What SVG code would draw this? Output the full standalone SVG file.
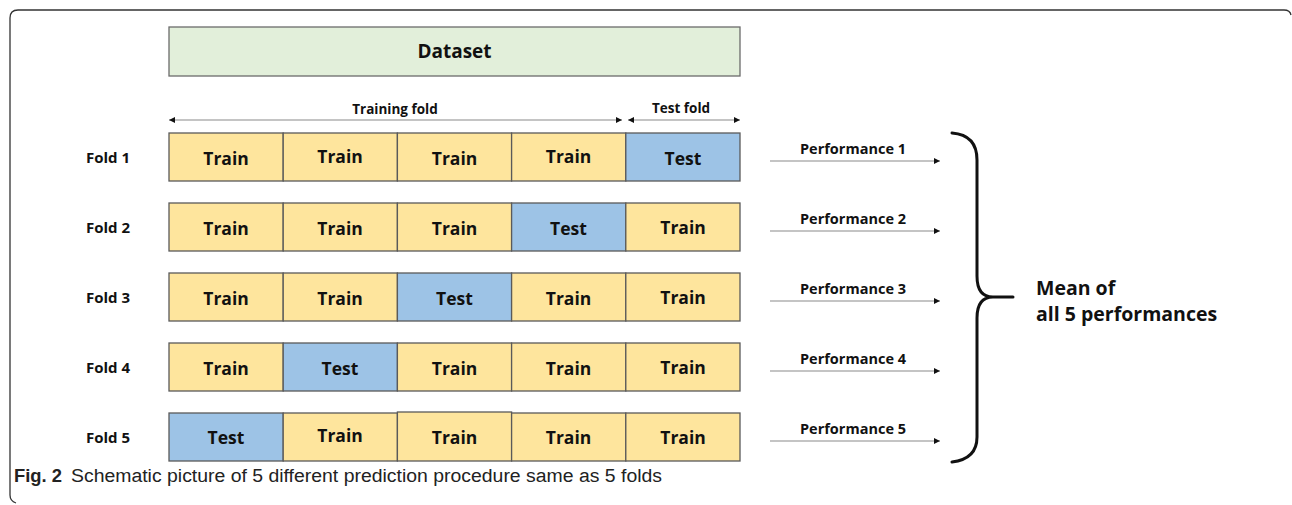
<svg xmlns="http://www.w3.org/2000/svg" width="1292" height="505" viewBox="0 0 1292 505">
  <defs>
    <style>
      .frame { fill: none; stroke: #333; stroke-width: 1.3; }
      .cell { stroke: #5a5a5a; stroke-width: 1.3; }
      .train { fill: #fee59d; }
      .test { fill: #9dc3e6; }
      .data { fill: #e2efda; stroke: #6b6b6b; stroke-width: 1.3; }
      .lbl { font-family: "Open Sans", "Noto Sans", sans-serif; font-weight: bold; fill: #111; text-anchor: middle; }
      .cellt { font-size: 17.5px; }
      .fold { font-size: 15px; }
      .perf { font-size: 14.5px; }
      .span { font-size: 13.5px; }
      .big { font-size: 19.5px; text-anchor: start; }
      .line { stroke: #8a8a8a; stroke-width: 1.2; fill: none; }
      .brace { fill: none; stroke: #111; stroke-width: 3; stroke-linecap: round; }
      .cap { font-family: "Liberation Sans", Arial, sans-serif; font-size: 18px; fill: #222; }
    </style>
    <marker id="head" viewBox="0 0 10 10" refX="10" refY="5" markerWidth="7" markerHeight="6" markerUnits="userSpaceOnUse" orient="auto-start-reverse">
      <path d="M0,0 L10,5 L0,10 Z" fill="#111"/>
    </marker>
  </defs>

  <!-- outer figure frame -->
  <path class="frame" d="M 16 503 Q 10 501 10 495 L 10 18 Q 10 10 18 10 L 1284 10 Q 1290 10 1291 15"/>

  <!-- dataset bar -->
  <g id="dataset">
    <rect class="data" x="169" y="27" width="571" height="49"/>
    <text class="lbl" x="454.5" y="58" font-size="19">Dataset</text>
  </g>

  <!-- span arrows, result arrows and the brace -->
  <g id="connectors">
    <line class="line" x1="169" y1="120" x2="622" y2="120" marker-start="url(#head)" marker-end="url(#head)"/>
    <line class="line" x1="628" y1="120" x2="740" y2="120" marker-start="url(#head)" marker-end="url(#head)"/>
    <line class="line" x1="770" y1="161" x2="940" y2="161" marker-end="url(#head)"/>
    <line class="line" x1="770" y1="231" x2="940" y2="231" marker-end="url(#head)"/>
    <line class="line" x1="770" y1="301" x2="940" y2="301" marker-end="url(#head)"/>
    <line class="line" x1="770" y1="371" x2="940" y2="371" marker-end="url(#head)"/>
    <line class="line" x1="770" y1="441" x2="940" y2="441" marker-end="url(#head)"/>
    <path class="brace" d="M 952 133 Q 977 135 977 160 L 977 276 Q 977 297 993 297 L 1013 297 M 993 297 Q 977 297 977 318 L 977 437 Q 977 459 952 462"/>
  </g>

  <g id="span-labels">
    <text class="lbl span" x="395" y="114">Training fold</text>
    <text class="lbl span" x="681" y="113">Test fold</text>
  </g>

  <!-- fold 1 -->
  <g id="fold1">
    <text class="lbl fold" x="108" y="163">Fold 1</text>
    <rect class="cell train" x="169" y="133" width="114.2" height="48"/>
    <rect class="cell train" x="283.2" y="133" width="114.2" height="48"/>
    <rect class="cell train" x="397.4" y="133" width="114.2" height="48"/>
    <rect class="cell train" x="511.6" y="133" width="114.2" height="48"/>
    <rect class="cell test" x="625.8" y="133" width="114.2" height="48"/>
    <text class="lbl cellt" x="226" y="165">Train</text>
    <text class="lbl cellt" x="340" y="163">Train</text>
    <text class="lbl cellt" x="454.5" y="165">Train</text>
    <text class="lbl cellt" x="568.5" y="163">Train</text>
    <text class="lbl cellt" x="683" y="165">Test</text>
  </g>

  <!-- fold 2 -->
  <g id="fold2">
    <text class="lbl fold" x="108" y="233">Fold 2</text>
    <rect class="cell train" x="169" y="203" width="114.2" height="48"/>
    <rect class="cell train" x="283.2" y="203" width="114.2" height="48"/>
    <rect class="cell train" x="397.4" y="203" width="114.2" height="48"/>
    <rect class="cell test" x="511.6" y="203" width="114.2" height="48"/>
    <rect class="cell train" x="625.8" y="203" width="114.2" height="48"/>
    <text class="lbl cellt" x="226" y="235">Train</text>
    <text class="lbl cellt" x="340" y="235">Train</text>
    <text class="lbl cellt" x="454.5" y="235">Train</text>
    <text class="lbl cellt" x="568.5" y="235">Test</text>
    <text class="lbl cellt" x="683" y="234">Train</text>
  </g>

  <!-- fold 3 -->
  <g id="fold3">
    <text class="lbl fold" x="108" y="303">Fold 3</text>
    <rect class="cell train" x="169" y="273" width="114.2" height="48"/>
    <rect class="cell train" x="283.2" y="273" width="114.2" height="48"/>
    <rect class="cell test" x="397.4" y="273" width="114.2" height="48"/>
    <rect class="cell train" x="511.6" y="273" width="114.2" height="48"/>
    <rect class="cell train" x="625.8" y="273" width="114.2" height="48"/>
    <text class="lbl cellt" x="226" y="305">Train</text>
    <text class="lbl cellt" x="340" y="305">Train</text>
    <text class="lbl cellt" x="454.5" y="305">Test</text>
    <text class="lbl cellt" x="568.5" y="305">Train</text>
    <text class="lbl cellt" x="683" y="304">Train</text>
  </g>

  <!-- fold 4 -->
  <g id="fold4">
    <text class="lbl fold" x="108" y="373">Fold 4</text>
    <rect class="cell train" x="169" y="343" width="114.2" height="48"/>
    <rect class="cell test" x="283.2" y="343" width="114.2" height="48"/>
    <rect class="cell train" x="397.4" y="343" width="114.2" height="48"/>
    <rect class="cell train" x="511.6" y="343" width="114.2" height="48"/>
    <rect class="cell train" x="625.8" y="343" width="114.2" height="48"/>
    <text class="lbl cellt" x="226" y="375">Train</text>
    <text class="lbl cellt" x="340" y="375">Test</text>
    <text class="lbl cellt" x="454.5" y="375">Train</text>
    <text class="lbl cellt" x="568.5" y="375">Train</text>
    <text class="lbl cellt" x="683" y="374">Train</text>
  </g>

  <!-- fold 5 -->
  <g id="fold5">
    <text class="lbl fold" x="108" y="443">Fold 5</text>
    <rect class="cell test" x="169" y="413" width="114.2" height="48"/>
    <rect class="cell train" x="283.2" y="413" width="114.2" height="48"/>
    <rect class="cell train" x="397.4" y="412" width="114.2" height="49"/>
    <rect class="cell train" x="511.6" y="413" width="114.2" height="48"/>
    <rect class="cell train" x="625.8" y="413" width="114.2" height="48"/>
    <text class="lbl cellt" x="226" y="444">Test</text>
    <text class="lbl cellt" x="340" y="442">Train</text>
    <text class="lbl cellt" x="454.5" y="444">Train</text>
    <text class="lbl cellt" x="568.5" y="444">Train</text>
    <text class="lbl cellt" x="683" y="444">Train</text>
  </g>

  <!-- per-fold results -->
  <g id="performances">
    <text class="lbl perf" x="853" y="154">Performance 1</text>
    <text class="lbl perf" x="853" y="224">Performance 2</text>
    <text class="lbl perf" x="853" y="294">Performance 3</text>
    <text class="lbl perf" x="853" y="364">Performance 4</text>
    <text class="lbl perf" x="853" y="434">Performance 5</text>
  </g>

  <g id="mean">
    <text class="lbl big" x="1036" y="295">Mean of</text>
    <text class="lbl big" x="1036" y="321">all 5 performances</text>
  </g>

  <!-- caption -->
  <g id="caption">
    <text class="cap" x="14" y="482" font-weight="bold" textLength="48" lengthAdjust="spacingAndGlyphs">Fig. 2</text>
    <text class="cap" x="71" y="482" textLength="591" lengthAdjust="spacingAndGlyphs">Schematic picture of 5 different prediction procedure same as 5 folds</text>
  </g>
</svg>
